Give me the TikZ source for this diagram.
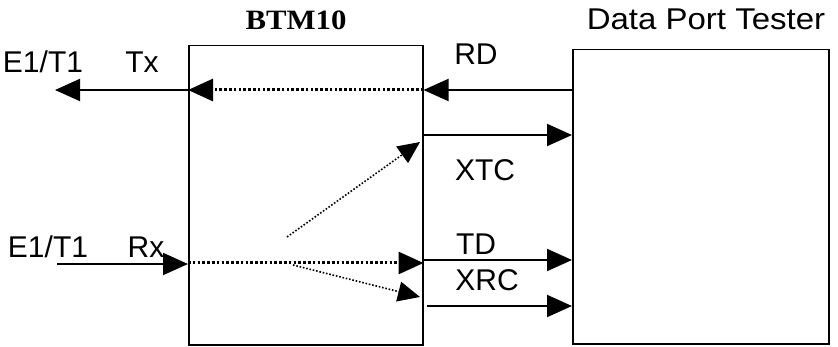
\documentclass[tikz,border=0pt]{standalone}
\usepackage{fontspec}
\setmainfont{Liberation Sans}
\newfontfamily\tnr{Liberation Serif}
\usetikzlibrary{arrows.meta}
\begin{document}
\begin{tikzpicture}[x=1pt,y=-1pt,
  box/.style={draw, line width=1.5pt, inner sep=0pt, anchor=north west},
  lbl/.style={font=\fontsize{30}{30}\selectfont, inner sep=0pt, anchor=base},
  sig/.style={line width=2pt, -{Triangle[length=25pt,width=22pt]}},
  dots/.style={line width=3pt, dash pattern=on 2.6pt off 2.2pt, -{Triangle[length=25pt,width=22pt]}},
  thindots/.style={line width=1.6pt, dash pattern=on 1.6pt off 1.8pt, -{Triangle[length=22pt,width=20pt]}}]
\useasboundingbox (0,0) rectangle (838,347);
% boxes
\node[box, minimum width=234pt, minimum height=299pt] (btm) at (188,45) {};
\node[box, minimum width=256pt, minimum height=294pt] (dpt) at (572,49) {};
% titles
\node[inner sep=0pt, anchor=base, font=\tnr\bfseries\fontsize{28}{28}\selectfont] (btmt) at (296,30) {\scalebox{1.1}[1]{BTM10}};
\node[lbl] (dptt) at (706,30) {\scalebox{1.1}[1]{Data Port Tester}};
% labels
\node[lbl] (e1a) at (43,73) {E1/T1};
\node[lbl] (txl) at (142,73) {Tx};
\node[lbl] (e1b) at (48,258) {E1/T1};
\node[lbl] (rxl) at (146,258) {Rx};
\node[lbl] (rdl) at (476,65) {RD};
\node[lbl] (xtcl) at (485,181) {XTC};
\node[lbl] (tdl) at (476,255) {TD};
\node[lbl] (xrcl) at (487,291) {XRC};
% row coordinates
\coordinate (rowtx) at (0,90);
\coordinate (rowxtc) at (0,135);
\coordinate (rowrx) at (0,263);
\coordinate (rowtd) at (0,260);
\coordinate (txend) at (55,90);
\coordinate (rxstart) at (57,264);
\coordinate (xrcstart) at (427,306);
\coordinate (d1s) at (287,237);
\coordinate (d1e) at (420,142);
\coordinate (d2s) at (293,265);
\coordinate (d2e) at (420,297);
% connectors
\draw[sig] (btm.west |- rowtx) -- (txend);
\draw[dots] (btm.east |- rowtx) -- (btm.west |- rowtx);
\draw[sig] (dpt.west |- rowtx) -- (btm.east |- rowtx);
\draw[sig] (btm.east |- rowxtc) -- (dpt.west |- rowxtc);
\draw[thindots] (d1s) -- (d1e);
\draw[sig] (rxstart) -- (btm.west |- rxstart);
\draw[dots] (btm.west |- rowrx) -- (btm.east |- rowrx);
\draw[thindots] (d2s) -- (d2e);
\draw[sig] (btm.east |- rowtd) -- (dpt.west |- rowtd);
\draw[sig] (xrcstart) -- (dpt.west |- xrcstart);
\end{tikzpicture}
\end{document}
